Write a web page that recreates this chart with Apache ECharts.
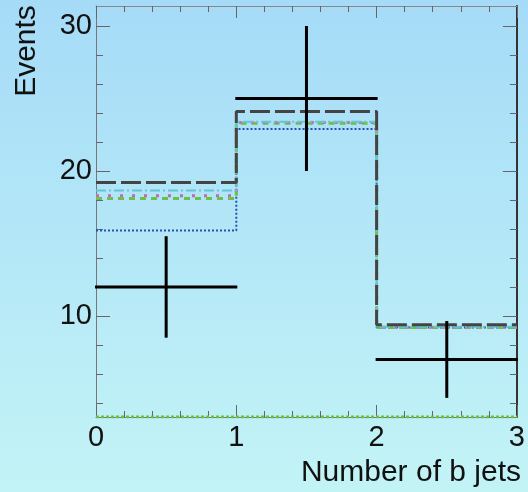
<!DOCTYPE html>
<html>
<head>
<meta charset="utf-8">
<script src="https://cdn.jsdelivr.net/npm/echarts@6/dist/echarts.min.js"></script>
<style>
  html, body { margin: 0; padding: 0; }
  #chart { width: 528px; height: 492px; }
</style>
</head>
<body>
<div id="chart"></div>
<script>
// Bin layout for the b-jet multiplicity
const binEdges = [0, 1, 2, 3];

// Observed events and their error bar ends
const dataCounts = [12, 25, 7];
const dataErrLow = [8.5, 20, 4.35];
const dataErrHigh = [15.5, 30, 9.65];

// Expected event counts per bin, one histogram per prediction
const histTotal = [19.2, 24.1, 9.4];
const histCyan = [18.65, 23.4, 9.25];
const histMagenta = [18.3, 23.35, 9.22];
const histYellow = [18.3, 23.35, 9.22];
const histGreen = [18.1, 23.3, 9.2];
const histBlue = [15.9, 22.9, 9.2];
const histLow = [0, 0, 0];

// Axis ranges and tick positions
const Y_MIN = 3.03, Y_MAX = 31.38;
const xMajorTicks = [0, 1, 2, 3];
const xMinorTicks = [0.2, 0.4, 0.6, 0.8, 1.2, 1.4, 1.6, 1.8, 2.2, 2.4, 2.6, 2.8];
const yMajorTicks = [10, 20, 30];
const yMinorTicks = [4, 6, 8, 12, 14, 16, 18, 22, 24, 26, 28];
const xLabels = ['0', '1', '2', '3'];
const yLabels = ['10', '20', '30'];

const FONT = '"Liberation Sans", Arial, sans-serif';
const TICK = '#666';

function stepData(values) {
  const pts = values.map((v, i) => [binEdges[i], Math.max(v, Y_MIN)]);
  pts.push([binEdges[binEdges.length - 1], Math.max(values[values.length - 1], Y_MIN)]);
  return pts;
}

function histSeries(name, values, color, width, dash, z) {
  return {
    name, type: 'line', step: 'end', data: stepData(values),
    symbol: 'none', silent: true, z,
    lineStyle: { color, width, type: dash, cap: 'butt' }
  };
}

function xAxisDef(position, ticks, len, withLine, withLabels, lineColor) {
  return {
    type: 'value', min: 0, max: 3, position,
    axisLine: { show: withLine, onZero: false, lineStyle: { color: lineColor, width: 1 } },
    axisTick: { show: true, inside: true, length: len, customValues: ticks, lineStyle: { color: TICK } },
    axisLabel: withLabels ? {
      show: true, customValues: xMajorTicks, margin: 6, color: '#111',
      fontFamily: FONT, fontSize: 29, formatter: v => xLabels[xMajorTicks.indexOf(v)]
    } : { show: false },
    splitLine: { show: false }, minorTick: { show: false }
  };
}

function yAxisDef(position, ticks, len, withLine, withLabels, lineColor, lineWidth) {
  return {
    type: 'value', min: Y_MIN, max: Y_MAX, position,
    axisLine: { show: withLine, onZero: false, lineStyle: { color: lineColor, width: lineWidth || 1 } },
    axisTick: { show: true, inside: true, length: len, customValues: ticks, lineStyle: { color: TICK } },
    axisLabel: withLabels ? {
      show: true, customValues: yMajorTicks, margin: 4, color: '#111',
      fontFamily: FONT, fontSize: 29, formatter: v => yLabels[yMajorTicks.indexOf(v)]
    } : { show: false },
    splitLine: { show: false }, minorTick: { show: false }
  };
}

const chart = echarts.init(document.getElementById('chart'), null, { renderer: 'canvas' });

const dataPoints = dataCounts.map((c, i) => [binEdges[i], binEdges[i + 1], c, dataErrLow[i], dataErrHigh[i]]);

chart.setOption({
  animation: false,
  backgroundColor: {
    type: 'linear', x: 0, y: 0, x2: 0, y2: 1,
    colorStops: [{ offset: 0, color: '#a6dbf8' }, { offset: 1, color: '#c2f4f6' }]
  },
  grid: { left: 96, right: 8, top: 6, bottom: 75, containLabel: false },
  xAxis: [
    xAxisDef('bottom', xMajorTicks, 12, true, true, '#777'),
    xAxisDef('bottom', xMinorTicks, 6, false, false, '#777'),
    xAxisDef('top', xMajorTicks, 12, true, false, '#888'),
    xAxisDef('top', xMinorTicks, 6, false, false, '#888')
  ],
  yAxis: [
    yAxisDef('left', yMajorTicks, 14, true, true, '#777'),
    yAxisDef('left', yMinorTicks, 7, false, false, '#777'),
    yAxisDef('right', yMajorTicks, 14, true, false, '#333', 2),
    yAxisDef('right', yMinorTicks, 7, false, false, '#333')
  ],
  graphic: [
    {
      type: 'text', x: 27, y: 51, rotation: Math.PI / 2,
      style: { text: 'Events', fontFamily: FONT, fontSize: 30, fill: '#111', align: 'center', verticalAlign: 'middle' }
    },
    {
      type: 'text', x: 521, y: 473,
      style: { text: 'Number of b jets', fontFamily: FONT, fontSize: 30, fill: '#111', align: 'right', verticalAlign: 'middle' }
    }
  ],
  series: [
    histSeries('low', histLow, '#6cbf47', 3, [3, 2], 2),
    histSeries('blue', histBlue, '#2b4fb5', 2, [2, 2], 3),
    histSeries('green', histGreen, '#6cbf47', 3, [6, 5], 4),
    histSeries('yellow', histYellow, '#e6e03a', 3, [3, 9], 5),
    histSeries('magenta', histMagenta, '#b86cc2', 3, [3, 9], 5),
    histSeries('cyan', histCyan, '#62c6d6', 2, [10, 3, 2, 3], 6),
    histSeries('total', histTotal, '#444444', 3, [20, 5], 7),
    {
      name: 'data', type: 'custom', z: 10, silent: true,
      data: dataPoints,
      renderItem(params, api) {
        const x0 = api.value(0), x1 = api.value(1), c = api.value(2);
        const lo = api.value(3), hi = api.value(4);
        const pL = api.coord([x0, c]);
        const pR = api.coord([x1, c]);
        const xm = (x0 + x1) / 2;
        const pT = api.coord([xm, hi]);
        const pB = api.coord([xm, lo]);
        const style = { stroke: '#000', lineWidth: 3 };
        return {
          type: 'group',
          children: [
            { type: 'line', shape: { x1: pL[0] - 1, y1: pL[1], x2: pR[0] + 1, y2: pR[1] }, style },
            { type: 'line', shape: { x1: pT[0], y1: pT[1], x2: pB[0], y2: pB[1] }, style }
          ]
        };
      }
    }
  ]
});
</script>
</body>
</html>
